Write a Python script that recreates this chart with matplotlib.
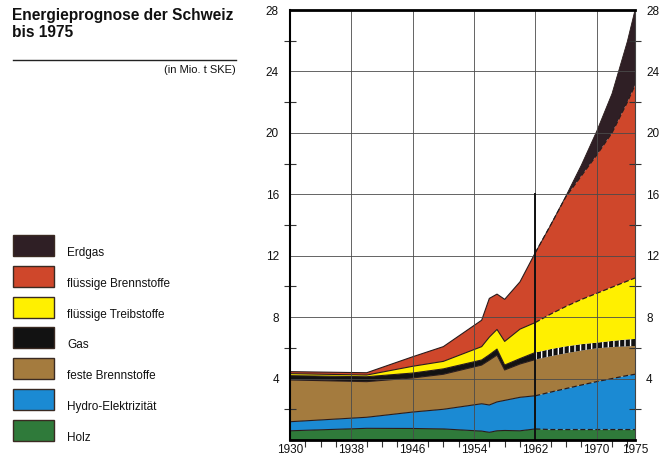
import numpy as np
import matplotlib
matplotlib.use('Agg')
import matplotlib.pyplot as plt
from matplotlib.patches import Rectangle

# ---------------- data (Mio. t SKE, layer thickness) ----------------
years = [1930, 1940, 1946, 1950, 1955, 1956, 1957, 1958, 1960, 1962,
         1964, 1966, 1968, 1970, 1972, 1974, 1975]
holz = [0.60, 0.76, 0.75, 0.72, 0.58, 0.50, 0.60, 0.62, 0.60, 0.72,
        0.68, 0.68, 0.68, 0.68, 0.68, 0.68, 0.68]
hydro = [0.59, 0.72, 1.07, 1.28, 1.78, 1.78, 1.88, 1.96, 2.18, 2.16,
         2.44, 2.67, 2.90, 3.12, 3.32, 3.52, 3.60]
feste = [2.72, 2.32, 2.22, 2.28, 2.52, 2.92, 3.05, 1.98, 2.17, 2.36,
         2.33, 2.30, 2.24, 2.17, 2.05, 1.90, 1.84]
gas = [0.28, 0.32, 0.32, 0.35, 0.33, 0.35, 0.39, 0.32, 0.35, 0.46,
       0.47, 0.45, 0.42, 0.37, 0.40, 0.45, 0.46]
treib = [0.13, 0.11, 0.44, 0.49, 0.87, 1.15, 1.28, 1.54, 1.92, 1.95,
         2.28, 2.60, 2.91, 3.21, 3.50, 3.80, 3.97]
brenn = [0.13, 0.15, 0.62, 0.96, 1.72, 2.52, 2.30, 2.74, 3.08, 4.55,
         5.80, 7.15, 8.05, 9.00, 10.05, 11.65, 12.55]
erdgas = [0, 0, 0, 0, 0, 0, 0, 0, 0, 0,
          0, 0.05, 0.70, 1.55, 2.55, 3.95, 4.90]

labels = ['Holz', 'Hydro-Elektrizität', 'feste Brennstoffe', 'Gas',
          'flüssige Treibstoffe', 'flüssige Brennstoffe', 'Erdgas']
colors = ['#2f7a3a', '#1b8ad3', '#a47b3e', '#121212',
          '#fff000', '#cf472b', '#2f1f25']

forecast_start = 1962
x_label_years = [1930, 1938, 1946, 1954, 1962, 1970, 1975]
x_minor_years = [y for y in range(1932, 1975, 2) if y not in x_label_years]
y_ticks = [4, 8, 12, 16, 20, 24, 28]
y_minor = [2, 6, 10, 14, 18, 22, 26]
marker_line_top = 16

plt.rcParams['font.family'] = ['Liberation Sans', 'DejaVu Sans']

W, H = 660, 457
fig = plt.figure(figsize=(W / 100, H / 100), dpi=100)

# ---------------- left panel ----------------
lax = fig.add_axes([0, 0, 1, 1], zorder=-1)
lax.set_xlim(0, W)
lax.set_ylim(H, 0)
lax.axis('off')

lax.text(12, 8, 'Energieprognose der Schweiz\nbis 1975', fontsize=11.2,
         fontweight='bold', va='top', ha='left', linespacing=1.2,
         color='#111')
lax.plot([13, 236], [60, 60], color='#222', lw=1.0)
lax.text(236, 70, '(in Mio. t SKE)', fontsize=8, ha='right', va='center',
         color='#111')

legend_order = list(range(len(labels)))[::-1]
for k, i in enumerate(legend_order):
    top = 235 + k * 30.8
    lax.add_patch(Rectangle((13, top), 41, 21, facecolor=colors[i],
                            edgecolor='#3a2a22', lw=1.0))
    lax.text(67, 253 + k * 30.8, labels[i], fontsize=8.5, va='center',
             ha='left', color='#111')

# ---------------- chart ----------------
ax = fig.add_axes([290 / W, 1 - 440 / H, 345 / W, 430 / H])
x = np.array(years, dtype=float)
layers = [holz, hydro, feste, gas, treib, brenn, erdgas]
cum = np.cumsum(np.array(layers, dtype=float), axis=0)
k = years.index(forecast_start)

for i, col in enumerate(colors):
    lower = cum[i - 1] if i > 0 else np.zeros_like(x)
    upper = cum[i]
    if labels[i] == 'Gas':
        ax.fill_between(x[:k + 1], lower[:k + 1], upper[:k + 1],
                        facecolor=col, lw=0, zorder=1)
        ax.fill_between(x[k:], lower[k:], upper[k:], facecolor=col,
                        edgecolor='white', hatch='|||', lw=0, zorder=1)
    else:
        ax.fill_between(x, lower, upper, facecolor=col, lw=0, zorder=1)

line_col = '#2a1c1c'
for i in range(len(layers)):
    upper = cum[i]
    name = labels[i]
    if name == 'Erdgas':
        continue
    ax.plot(x[:k + 1], upper[:k + 1], color=line_col, lw=0.8, zorder=2)
    if name in ('Gas', 'feste Brennstoffe'):
        continue
    ax.plot(x[k:], upper[k:], color=line_col, lw=0.9, zorder=2,
            dashes=(4, 2))
# outer boundary (Erdgas top)
ax.plot(x[k:], cum[-1][k:], color=line_col, lw=0.6, zorder=2)

ax.set_xlim(1930, 1975)
ax.set_ylim(0, 28)
ax.set_xticks(x_label_years)
ax.set_xticks(x_minor_years, minor=True)
ax.set_yticks(y_ticks)
ax.set_yticks(y_minor, minor=True)
ax.tick_params(axis='x', which='major', length=0, pad=3, labelsize=8.5,
               colors='#111')
ax.tick_params(axis='x', which='minor', length=5, width=0.8,
               direction='out', color='#333')
ax.tick_params(axis='y', which='major', length=0, pad=8, labelsize=8.5,
               left=True, right=True, labelleft=True, labelright=True,
               colors='#111')
ax.tick_params(axis='y', which='minor', length=9, width=0.8,
               direction='inout', left=True, right=True, color='#333')

ax.grid(True, which='major', color='#4a4a4a', lw=0.6)
ax.set_axisbelow(False)

ax.plot([forecast_start, forecast_start], [0, marker_line_top],
        color='#111', lw=1.4, zorder=4)

for s in ax.spines.values():
    s.set_zorder(5)
ax.spines['top'].set_linewidth(2.0)
ax.spines['bottom'].set_linewidth(2.0)
ax.spines['left'].set_linewidth(1.5)
ax.spines['right'].set_linewidth(0.8)
ax.spines['right'].set_color('#444')

fig.savefig('out.png', dpi=100)
